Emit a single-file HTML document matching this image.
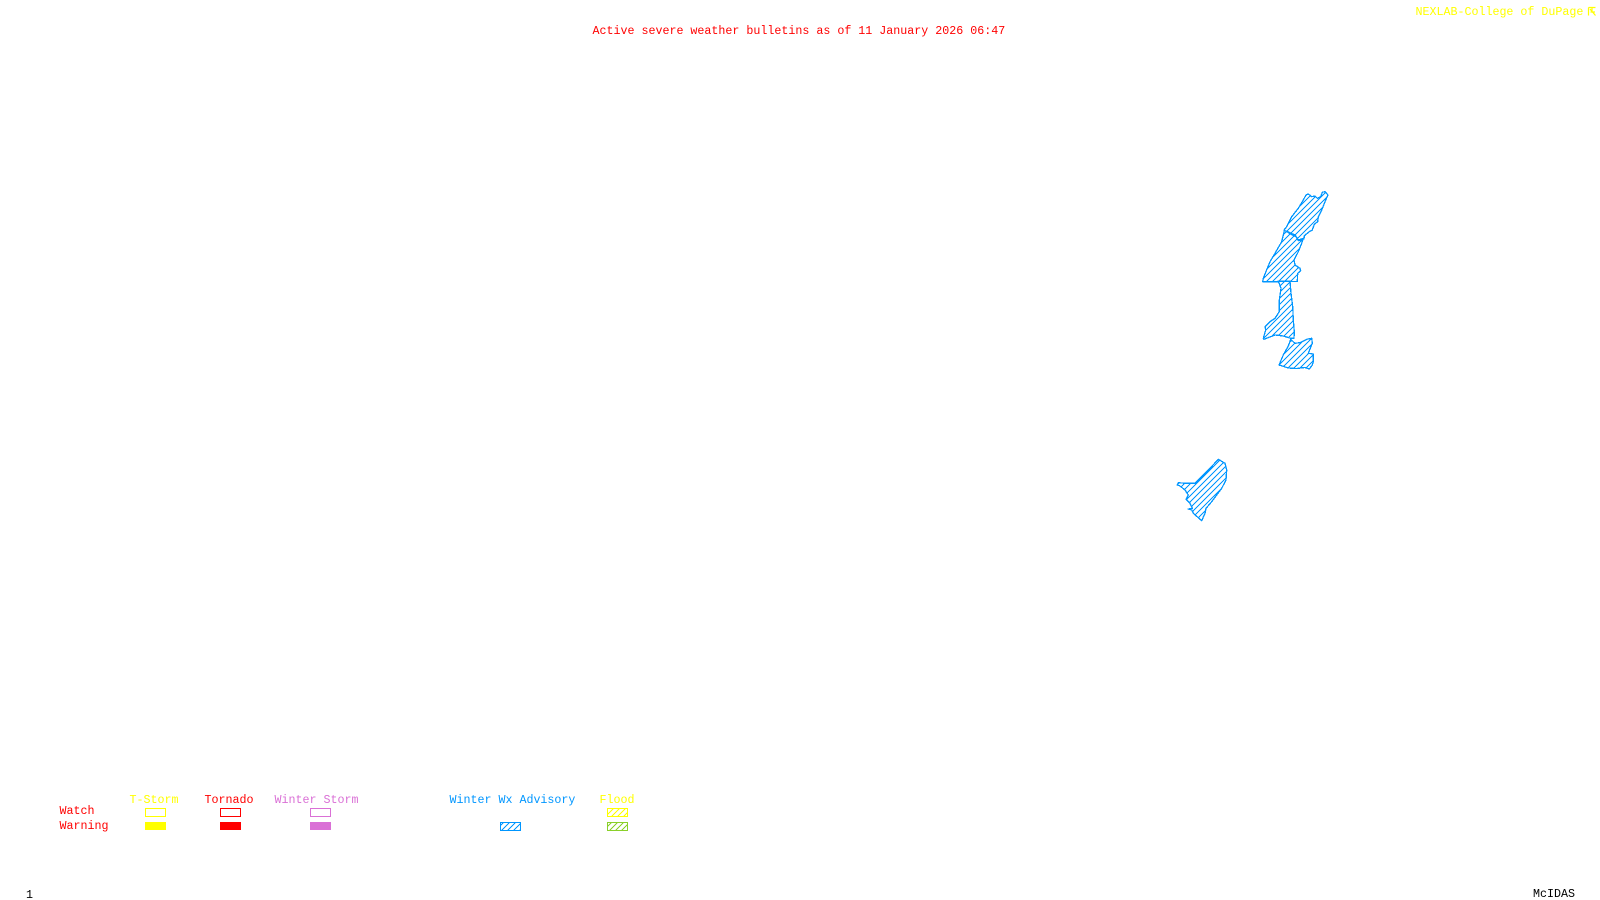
<!DOCTYPE html>
<html lang="en">
<head>
<meta charset="utf-8">
<title>Active severe weather bulletins</title>
<style>
html,body{margin:0;padding:0;background:#fff;width:1600px;height:900px;overflow:hidden}
svg{display:block}
text{font-family:"Liberation Mono",monospace;font-size:11.67px;white-space:pre}
.z{fill:url(#h);stroke:#0096ff;stroke-width:1.3;stroke-linejoin:round;shape-rendering:crispEdges}
</style>
</head>
<body>
<svg width="1600" height="900" viewBox="0 0 1600 900" xmlns="http://www.w3.org/2000/svg">
<defs>
<pattern id="h" patternUnits="userSpaceOnUse" width="6" height="6"><path d="M-1 7L7 -1M-1 1L1 -1M5 7L7 5" stroke="#0096ff" stroke-width="1" fill="none" shape-rendering="crispEdges"/></pattern>
<pattern id="hy" patternUnits="userSpaceOnUse" width="6" height="6"><path d="M-1 7L7 -1M-1 1L1 -1M5 7L7 5" stroke="#ffff00" stroke-width="1" fill="none" shape-rendering="crispEdges"/></pattern>
<pattern id="hg" patternUnits="userSpaceOnUse" width="6" height="6"><path d="M-1 7L7 -1M-1 1L1 -1M5 7L7 5" stroke="#8ad02a" stroke-width="1" fill="none" shape-rendering="crispEdges"/></pattern>
</defs>
<rect width="1600" height="900" fill="#fff"/>

<text x="592.5" y="34" fill="#ff0000">Active severe weather bulletins as of 11 January 2026 06:47</text>
<text x="1415.5" y="15" fill="#ffff00">NEXLAB-College of DuPage</text>
<path d="M1588.5 7.5H1595.5M1588.5 7.5V15.5M1590 9L1595.5 15.5M1590.5 12H1595M1592 7.5V11" stroke="#ffff00" stroke-width="1.2" fill="none"/>

<polygon class="z" points="1306,195 1308.3,194 1311.7,196.7 1315,196 1317.3,198.3 1320.7,196.7 1322.3,192.3 1325,191.7 1328,195 1325,201.7 1321.7,210 1318.3,216.7 1317.7,221.7 1314.3,224.3 1312.3,230 1309.3,231.7 1304.3,235.7 1304,239 1298.3,240.7 1296,236.7 1290.7,234 1284,230 1286.7,226.7 1291.7,216.7 1298.3,208.3 1303.3,200"/>
<polygon class="z" points="1284.3,230.7 1287.7,231.7 1295,235 1298.3,240 1303.3,238.3 1301.7,243.3 1298.3,251.7 1294,260 1295,265 1300,268.3 1300.7,270.7 1297.7,273.3 1297.3,281.5 1262.7,281.7 1263.3,278.3 1270,261.7 1275,253.3 1281.7,241.7"/>
<polygon class="z" points="1278.3,281 1290,281 1291,293.3 1292.7,306.7 1293.3,320 1294.3,331.7 1294,338.3 1290.7,338.3 1283.3,336 1275,335 1264,339.3 1263.3,338.3 1265.7,330 1265,326.7 1270,321.7 1275,318.3 1279.3,311.7 1279.3,300 1281,288.3"/>
<polygon class="z" points="1290.7,339.5 1295,343.3 1300,342.7 1306.7,339.3 1311.7,338.3 1312.3,343.3 1308.3,353.3 1313.3,354 1313.3,361.7 1312.3,365 1309.3,369 1305,367.5 1296.7,368.5 1288.3,368 1279,365 1283.3,355 1288.3,346"/>
<polygon class="z" points="1218.3,459.3 1225,463.3 1226.7,470 1226,480 1221.7,488.3 1216.7,495 1211.7,501.7 1206,508.3 1205,513.3 1201.7,520.7 1198.3,517.7 1193.3,513.3 1191.7,510 1188.3,509 1192.3,508.3 1190,503.3 1186,499.3 1188.3,495 1185,490 1180,486 1177.3,485 1178.3,482.7 1185,483.3 1195,483.3 1203.3,475 1210,468.3"/>

<text x="129.5" y="803" fill="#ffff00">T-Storm</text>
<text x="204.5" y="803" fill="#ff0000">Tornado</text>
<text x="274.5" y="803" fill="#da70d6">Winter Storm</text>
<text x="449.5" y="803" fill="#0096ff">Winter Wx Advisory</text>
<text x="599.5" y="803" fill="#ffff00">Flood</text>
<text x="59.5" y="814" fill="#ff0000">Watch</text>
<text x="59.5" y="829" fill="#ff0000">Warning</text>

<rect x="145.5" y="808.5" width="20" height="8" fill="none" stroke="#ffff00"/>
<rect x="145" y="822" width="21" height="8" fill="#ffff00"/>
<rect x="220.5" y="808.5" width="20" height="8" fill="none" stroke="#ff0000"/>
<rect x="220" y="822" width="21" height="8" fill="#ff0000"/>
<rect x="310.5" y="808.5" width="20" height="8" fill="none" stroke="#da70d6"/>
<rect x="310" y="822" width="21" height="8" fill="#da70d6"/>
<rect x="500.5" y="822.5" width="20" height="8" fill="url(#h)" stroke="#0096ff"/>
<rect x="607.5" y="808.5" width="20" height="8" fill="url(#hy)" stroke="#ffff00"/>
<rect x="607.5" y="822.5" width="20" height="8" fill="url(#hg)" stroke="#8ad02a"/>

<text x="26" y="898" fill="#000">1</text>
<text x="1533" y="897" fill="#000">McIDAS</text>
</svg>
</body>
</html>
